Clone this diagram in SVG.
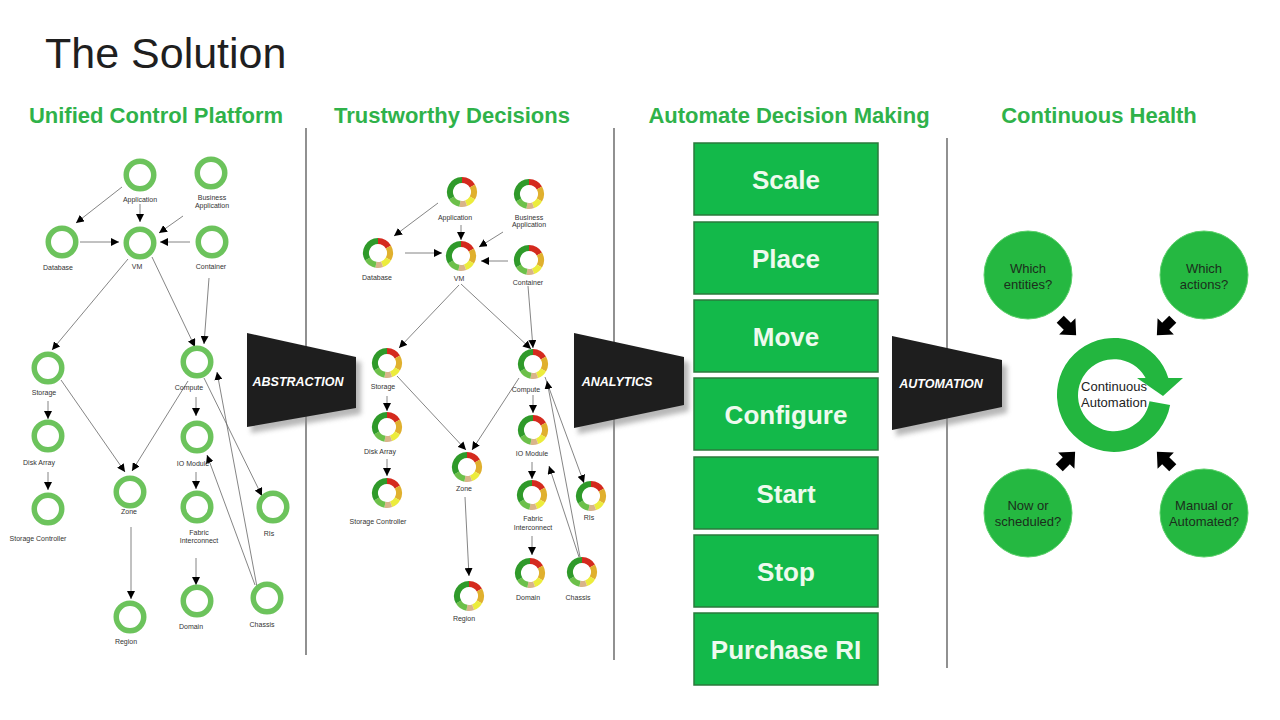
<svg xmlns="http://www.w3.org/2000/svg" xmlns:xlink="http://www.w3.org/1999/xlink" width="1280" height="720" viewBox="0 0 1280 720">
<style>
text{font-family:"Liberation Sans",Arial,sans-serif}
.title{font-size:43px;fill:#1f1f1f}
.hdr{font-size:22px;font-weight:bold;fill:#2fb24a;text-anchor:middle}
.ring{fill:none;stroke:#6cc35c;stroke-width:5.5}
.lbl{font-size:7px;fill:#333;text-anchor:middle}
.edge{stroke:#666;stroke-width:0.8;fill:none;marker-end:url(#ah)}
.div{stroke:#555;stroke-width:1.3}
.trap{fill:#1e1e1e}
.trapsh{fill:#888;opacity:0.6;filter:url(#blur)}
.traptxt{font-size:12.5px;font-weight:bold;font-style:italic;fill:#fff;text-anchor:middle}
.box{fill:#13b94a;stroke:#2b7a3c;stroke-width:1.5}
.boxtxt{font-size:26px;font-weight:bold;fill:#eefaee;text-anchor:middle}
.q{fill:#25b841;stroke:#5cd06a;stroke-width:1}
.qtxt{font-size:13px;fill:#1b2e1c;text-anchor:middle}
.blk{fill:#000}
</style>
<defs>
<marker id="ah" viewBox="0 0 10 10" refX="10" refY="5" markerWidth="8" markerHeight="8" markerUnits="userSpaceOnUse" orient="auto">
<path d="M0,0 L10,5 L0,10 z" fill="#000"/>
</marker>
<filter id="blur" x="-20%" y="-20%" width="140%" height="140%"><feGaussianBlur stdDeviation="2.5"/></filter>
<g id="donut" fill="none" stroke-width="6">
<path d="M0,-12 A12,12 0 0 1 10.39,-6" stroke="#d42a1e"/>
<path d="M10.39,-6 A12,12 0 0 1 10.39,6" stroke="#e0b02e"/>
<path d="M10.39,6 A12,12 0 0 1 4.1,11.28" stroke="#ecec3c"/>
<path d="M4.1,11.28 A12,12 0 0 1 -2.08,11.82" stroke="#d9b48a"/>
<path d="M-2.08,11.82 A12,12 0 0 1 -10.39,6" stroke="#6cc04a"/>
<path d="M-10.39,6 A12,12 0 0 1 0,-12" stroke="#2f9a2a"/>
</g>
<polygon id="barrow" points="-11,-5 -1,-5 -1,-11.5 11.5,0 -1,11.5 -1,5 -11,5"/>
</defs>

<rect x="0" y="0" width="1280" height="720" fill="#fff"/>

<text class="title" x="45" y="68">The Solution</text>
<text class="hdr" x="156" y="123">Unified Control Platform</text>
<text class="hdr" x="452" y="123">Trustworthy Decisions</text>
<text class="hdr" x="789" y="123">Automate Decision Making</text>
<text class="hdr" x="1099" y="123">Continuous Health</text>

<g id="dividers">
<line class="div" x1="306" y1="128" x2="306" y2="655"/>
<line class="div" x1="614" y1="128" x2="614" y2="660"/>
<line class="div" x1="947" y1="138" x2="947" y2="668"/>
</g>

<g id="connectors">
<line class="edge" x1="122" y1="187" x2="76" y2="223"/>
<line class="edge" x1="140" y1="204" x2="140" y2="222"/>
<line class="edge" x1="183" y1="216" x2="159" y2="233"/>
<line class="edge" x1="80" y1="242" x2="119" y2="242"/>
<line class="edge" x1="190" y1="242" x2="160" y2="242"/>
<line class="edge" x1="128" y1="259" x2="52" y2="350"/>
<line class="edge" x1="152" y1="257" x2="195" y2="347"/>
<line class="edge" x1="209" y1="278" x2="204" y2="344"/>
<line class="edge" x1="61" y1="380" x2="125" y2="472"/>
<line class="edge" x1="188" y1="381" x2="132" y2="471"/>
<line class="edge" x1="48" y1="401" x2="48" y2="419"/>
<line class="edge" x1="48" y1="472" x2="48" y2="490"/>
<line class="edge" x1="196" y1="397" x2="196" y2="416"/>
<line class="edge" x1="196" y1="472" x2="196" y2="489"/>
<line class="edge" x1="196" y1="558" x2="196" y2="585"/>
<line class="edge" x1="131" y1="527" x2="131" y2="599"/>
<line class="edge" x1="204" y1="378" x2="262" y2="496"/>
<line class="edge" x1="257" y1="587" x2="217" y2="372"/>
<line class="edge" x1="255" y1="585" x2="207" y2="455"/>

<line class="edge" x1="438" y1="203" x2="394" y2="236"/>
<line class="edge" x1="461" y1="225" x2="461" y2="240"/>
<line class="edge" x1="503" y1="232" x2="479" y2="247"/>
<line class="edge" x1="405" y1="253" x2="442" y2="253"/>
<line class="edge" x1="508" y1="261" x2="481" y2="261"/>
<line class="edge" x1="459" y1="285" x2="399" y2="348"/>
<line class="edge" x1="461" y1="284" x2="531" y2="349"/>
<line class="edge" x1="528" y1="286" x2="533" y2="348"/>
<line class="edge" x1="387" y1="396" x2="387" y2="411"/>
<line class="edge" x1="387" y1="459" x2="387" y2="476"/>
<line class="edge" x1="397" y1="376" x2="466" y2="450"/>
<line class="edge" x1="519" y1="378" x2="472" y2="450"/>
<line class="edge" x1="533" y1="395" x2="533" y2="413"/>
<line class="edge" x1="532" y1="462" x2="532" y2="479"/>
<line class="edge" x1="532" y1="536" x2="532" y2="555"/>
<line class="edge" x1="465" y1="497" x2="469" y2="576"/>
<line class="edge" x1="545" y1="377" x2="584" y2="483"/>
<line class="edge" x1="580" y1="557" x2="547" y2="381"/>
<line class="edge" x1="579" y1="557" x2="549" y2="466"/>
</g>

<!-- Left graph -->
<g id="u-application"><circle class="ring" cx="140" cy="175" r="13.75"/><text class="lbl" x="140" y="201.5">Application</text></g>
<g id="u-business"><circle class="ring" cx="211" cy="173" r="13.75"/><text class="lbl" x="212" y="199.5">Business</text><text class="lbl" x="212" y="207.5">Application</text></g>
<g id="u-database"><circle class="ring" cx="62" cy="242" r="13.75"/><text class="lbl" x="58" y="269.5">Database</text></g>
<g id="u-vm"><circle class="ring" cx="140" cy="243" r="13.75"/><text class="lbl" x="137" y="269">VM</text></g>
<g id="u-container"><circle class="ring" cx="212" cy="242" r="13.75"/><text class="lbl" x="211" y="268.5">Container</text></g>
<g id="u-storage"><circle class="ring" cx="48" cy="368" r="13.75"/><text class="lbl" x="44" y="394.5">Storage</text></g>
<g id="u-compute"><circle class="ring" cx="197" cy="362" r="13.75"/><text class="lbl" x="189" y="389.5">Compute</text></g>
<g id="u-diskarray"><circle class="ring" cx="48" cy="436" r="13.75"/><text class="lbl" x="39" y="464.5">Disk Array</text></g>
<g id="u-storagecontroller"><circle class="ring" cx="48" cy="509" r="13.75"/><text class="lbl" x="38" y="540.5">Storage Controller</text></g>
<g id="u-zone"><circle class="ring" cx="130" cy="492" r="13.75"/><text class="lbl" x="129" y="513.5">Zone</text></g>
<g id="u-iomodule"><circle class="ring" cx="197" cy="437" r="13.75"/><text class="lbl" x="193" y="465.5">IO Module</text></g>
<g id="u-fabric"><circle class="ring" cx="197" cy="507" r="13.75"/><text class="lbl" x="199" y="534.5">Fabric</text><text class="lbl" x="199" y="542.5">Interconnect</text></g>
<g id="u-ris"><circle class="ring" cx="273" cy="507" r="13.75"/><text class="lbl" x="269" y="535.5">RIs</text></g>
<g id="u-region"><circle class="ring" cx="130" cy="617" r="13.75"/><text class="lbl" x="126" y="643.5">Region</text></g>
<g id="u-domain"><circle class="ring" cx="197" cy="601" r="13.75"/><text class="lbl" x="191" y="628.5">Domain</text></g>
<g id="u-chassis"><circle class="ring" cx="267" cy="598" r="13.75"/><text class="lbl" x="262" y="626.5">Chassis</text></g>

<!-- Middle graph -->
<g id="t-application"><use xlink:href="#donut" href="#donut" transform="translate(462,192)"/><text class="lbl" x="455" y="219.5">Application</text></g>
<g id="t-business"><use xlink:href="#donut" href="#donut" transform="translate(529,194)"/><text class="lbl" x="529" y="219.5">Business</text><text class="lbl" x="529" y="227">Application</text></g>
<g id="t-database"><use xlink:href="#donut" href="#donut" transform="translate(378,253)"/><text class="lbl" x="377" y="279.5">Database</text></g>
<g id="t-vm"><use xlink:href="#donut" href="#donut" transform="translate(461,256)"/><text class="lbl" x="459" y="280.5">VM</text></g>
<g id="t-container"><use xlink:href="#donut" href="#donut" transform="translate(529,260)"/><text class="lbl" x="528" y="284.5">Container</text></g>
<g id="t-storage"><use xlink:href="#donut" href="#donut" transform="translate(387,363)"/><text class="lbl" x="383" y="388.5">Storage</text></g>
<g id="t-compute"><use xlink:href="#donut" href="#donut" transform="translate(533,364)"/><text class="lbl" x="526" y="391.5">Compute</text></g>
<g id="t-diskarray"><use xlink:href="#donut" href="#donut" transform="translate(387,427)"/><text class="lbl" x="380" y="453.5">Disk Array</text></g>
<g id="t-storagecontroller"><use xlink:href="#donut" href="#donut" transform="translate(387,493)"/><text class="lbl" x="378" y="523.5">Storage Controller</text></g>
<g id="t-zone"><use xlink:href="#donut" href="#donut" transform="translate(467,467)"/><text class="lbl" x="464" y="490.5">Zone</text></g>
<g id="t-iomodule"><use xlink:href="#donut" href="#donut" transform="translate(533,430)"/><text class="lbl" x="532" y="455.5">IO Module</text></g>
<g id="t-fabric"><use xlink:href="#donut" href="#donut" transform="translate(532,495)"/><text class="lbl" x="533" y="520.5">Fabric</text><text class="lbl" x="533" y="529.5">Interconnect</text></g>
<g id="t-ris"><use xlink:href="#donut" href="#donut" transform="translate(591,496)"/><text class="lbl" x="589" y="519.5">RIs</text></g>
<g id="t-domain"><use xlink:href="#donut" href="#donut" transform="translate(530,573)"/><text class="lbl" x="528" y="599.5">Domain</text></g>
<g id="t-chassis"><use xlink:href="#donut" href="#donut" transform="translate(582,572)"/><text class="lbl" x="578" y="599.5">Chassis</text></g>
<g id="t-region"><use xlink:href="#donut" href="#donut" transform="translate(469,596)"/><text class="lbl" x="464" y="620.5">Region</text></g>

<!-- Stage arrows -->
<g id="abstraction">
<polygon class="trapsh" points="251,339 361,362 361,414 251,433"/>
<polygon class="trap" points="247,333 356,357 356,408 247,427"/>
<text class="traptxt" x="298" y="386">ABSTRACTION</text>
</g>
<g id="analytics">
<polygon class="trapsh" points="578,339 689,362 689,411 578,434"/>
<polygon class="trap" points="574,333 684,357 684,405 574,428"/>
<text class="traptxt" x="617" y="386">ANALYTICS</text>
</g>
<g id="automation">
<polygon class="trapsh" points="896,342 1007,366 1007,413 896,436"/>
<polygon class="trap" points="892,336 1002,360 1002,407 892,430"/>
<text class="traptxt" x="941" y="388">AUTOMATION</text>
</g>

<!-- Actions -->
<g id="a-scale"><rect class="box" x="694" y="143" width="184" height="72"/><text class="boxtxt" x="786" y="189">Scale</text></g>
<g id="a-place"><rect class="box" x="694" y="222" width="184" height="72"/><text class="boxtxt" x="786" y="268">Place</text></g>
<g id="a-move"><rect class="box" x="694" y="300" width="184" height="72"/><text class="boxtxt" x="786" y="346">Move</text></g>
<g id="a-configure"><rect class="box" x="694" y="378" width="184" height="72"/><text class="boxtxt" x="786" y="424">Configure</text></g>
<g id="a-start"><rect class="box" x="694" y="457" width="184" height="72"/><text class="boxtxt" x="786" y="503">Start</text></g>
<g id="a-stop"><rect class="box" x="694" y="535" width="184" height="72"/><text class="boxtxt" x="786" y="581">Stop</text></g>
<g id="a-purchase"><rect class="box" x="694" y="613" width="184" height="72"/><text class="boxtxt" x="786" y="659">Purchase RI</text></g>

<!-- Continuous health -->
<g id="h-entities"><circle class="q" cx="1028" cy="275" r="44"/><text class="qtxt" x="1028" y="273">Which</text><text class="qtxt" x="1028" y="289">entities?</text></g>
<g id="h-actions"><circle class="q" cx="1204" cy="275" r="44"/><text class="qtxt" x="1204" y="273">Which</text><text class="qtxt" x="1204" y="289">actions?</text></g>
<g id="h-when"><circle class="q" cx="1028" cy="513" r="44"/><text class="qtxt" x="1028" y="510">Now or</text><text class="qtxt" x="1028" y="526">scheduled?</text></g>
<g id="h-mode"><circle class="q" cx="1204" cy="513" r="44"/><text class="qtxt" x="1204" y="510">Manual or</text><text class="qtxt" x="1204" y="526">Automated?</text></g>

<g id="h-center">
<path d="M1170.1,404.9 A57,57 0 1 1 1168.7,379 L1148.5,384.9 A36,36 0 1 0 1149.5,401.3 Z" fill="#23b63f"/>
<polygon points="1137,378 1183,378 1163,396" fill="#23b63f"/>
<text x="1114" y="391" style="font-size:13px;fill:#222;text-anchor:middle">Continuous</text>
<text x="1114" y="407" style="font-size:13px;fill:#222;text-anchor:middle">Automation</text>
</g>

<g id="h-arrows">
<use xlink:href="#barrow" href="#barrow" class="blk" transform="translate(1068,327) rotate(45)"/>
<use xlink:href="#barrow" href="#barrow" class="blk" transform="translate(1165,327) rotate(135)"/>
<use xlink:href="#barrow" href="#barrow" class="blk" transform="translate(1067,460) rotate(-45)"/>
<use xlink:href="#barrow" href="#barrow" class="blk" transform="translate(1165,460) rotate(-135)"/>
</g>
</svg>
